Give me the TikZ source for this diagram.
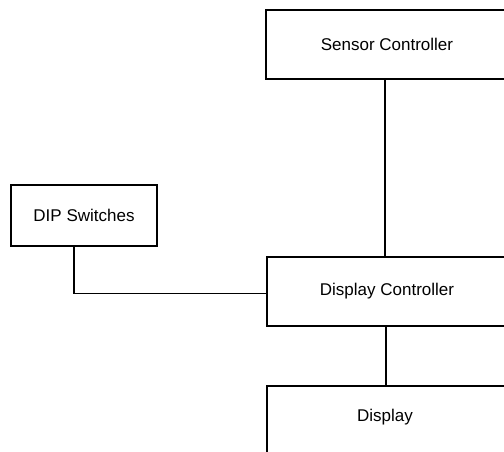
\documentclass[tikz,border=0pt]{standalone}
\usepackage{fontspec}
\setmainfont{Liberation Sans}
\begin{document}
\begin{tikzpicture}[x=1pt,y=-1pt,
  box/.style={draw=black, line width=1.3pt, rectangle, inner sep=0pt, font=\fontsize{17}{20}\selectfont},
  link/.style={draw=black, line width=1.3pt}]
\useasboundingbox (0,0) rectangle (504,451);
\clip (0,0) rectangle (504,451);
\node[box, minimum width=242, minimum height=69] (sensor) at (387,44.5) {Sensor Controller};
\node[box, minimum width=146, minimum height=61] (dip) at (84,215.5) {DIP Switches};
\node[box, minimum width=240, minimum height=69] (dc) at (387,291.5) {Display Controller};
\node[box, minimum width=240, minimum height=69] (disp) at (387,420.5) {};
\node[font=\fontsize{17}{20}\selectfont] (displabel) at (385,417) {Display};
\draw[link] ([xshift=-2]sensor.south) -- ([xshift=-2]sensor.south |- dc.north);
\draw[link] ([xshift=-10]dip.south) |- ([yshift=-2]dc.west);
\draw[link] ([xshift=-1]dc.south) -- ([xshift=-1]dc.south |- disp.north);
\end{tikzpicture}
\end{document}
